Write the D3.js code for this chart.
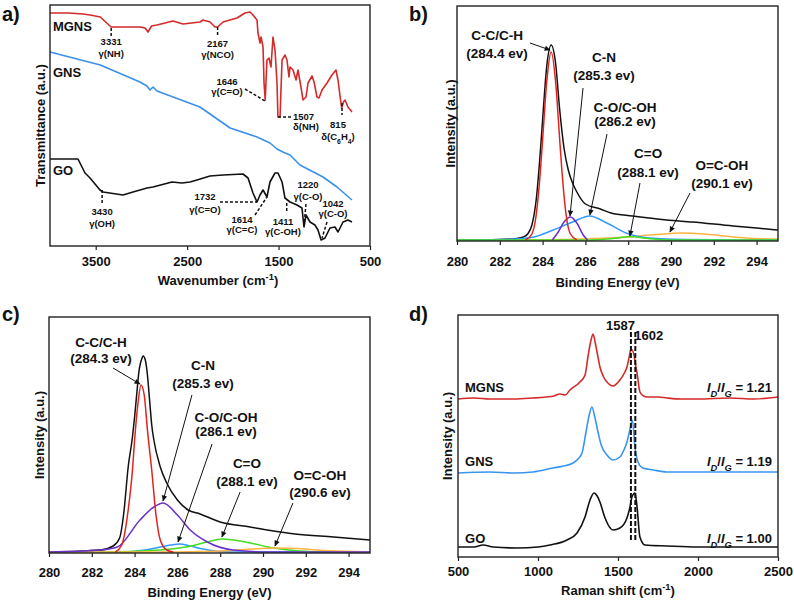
<!DOCTYPE html>
<html><head><meta charset="utf-8">
<script src="https://cdn.jsdelivr.net/npm/d3@7"></script>
<style>
body{margin:0;background:#fff}
svg{display:block}
text{font-family:"Liberation Sans",Arial,Helvetica,sans-serif;font-weight:bold;fill:#111}
</style></head><body>
<svg id="fig" width="794" height="602"></svg>
<script>
// ---------------- DATA ----------------
// (a) FTIR: [wavenumber cm-1, transmittance a.u.]
const ftirTicks = [3500, 2500, 1500, 500];
const ftirMGNS = [[4000,233],[3800,233],[3640,232],[3560,231],[3450,229],[3380,223],[3331,219],[3200,219],[3016,219],[2960,218],[2928,214],[2890,220],[2830,221],[2655,225],[2545,222],[2360,224],[2327,226],[2250,224],[2195,219],[2167,219],[2108,224],[1955,228],[1867,233],[1812,234],[1780,231],[1736,226],[1725,213],[1703,203],[1692,209],[1670,199],[1659,163],[1646,146],[1627,186],[1605,188],[1583,179],[1561,209],[1539,196],[1517,163],[1507,129],[1484,129],[1462,186],[1430,191],[1408,186],[1386,169],[1375,179],[1342,176],[1309,166],[1288,176],[1255,159],[1233,146],[1200,149],[1178,163],[1134,170],[1112,164],[1080,149],[1058,148],[1025,156],[970,163],[916,171],[872,176],[850,166],[825,148],[810,138],[790,144],[773,146],[741,139],[697,134]];
const ftirGNS = [[4000,194],[3450,181],[3016,164],[2940,160],[2906,156],[2873,159],[2830,155],[2360,139],[2030,118],[1736,109],[1594,103],[1517,97],[1452,94],[1375,91],[1266,81],[1014,69],[861,59],[697,46]];
const ftirGO = [[4000,87],[3694,87],[3650,79],[3617,73],[3562,68],[3453,56],[3420,54],[3202,51],[3092,54],[2939,58],[2873,59],[2666,64],[2556,63],[2469,64],[2392,66],[2250,70],[2108,71],[1889,72],[1834,68],[1780,53],[1736,44],[1703,51],[1670,56],[1627,49],[1594,64],[1539,73],[1506,73],[1462,64],[1430,48],[1375,44],[1298,41],[1244,38],[1222,19],[1200,31],[1156,24],[1102,21],[1069,16],[1035,6],[992,8],[938,18],[883,19],[850,14],[795,24],[741,26],[697,24]];

// (b) XPS N-doped (MGNS): [binding energy eV, intensity a.u.]
const xpsTicks = [280, 282, 284, 286, 288, 290, 292, 294];
const bEnvelope = [[280,0],[282,0.5],[282.8,1.5],[283.1,3],[283.3,6],[283.5,15],[283.7,40],[283.9,90],[284.0,120],[284.2,175],[284.4,195],[284.6,178],[284.8,130],[285.0,92],[285.2,70],[285.4,57],[285.6,48],[286.0,36],[286.7,31],[287.2,27],[288.2,24],[289.8,20],[291.0,18],[292.9,14],[294.0,12],[295,10]];
const bCC = [[283.2,0],[283.5,6],[283.7,25],[283.9,70],[284.0,100],[284.2,160],[284.4,188],[284.6,160],[284.8,100],[284.9,70],[285.1,25],[285.3,6],[285.6,0]];
const bCN = [[284.45,0],[284.7,7],[285.0,18],[285.3,23],[285.6,17],[285.9,5],[286.1,0]];
const bCO = [[280,0],[282,0.5],[283,1.5],[283.6,3],[284.5,10],[285.4,18],[286.2,24],[287,17],[287.9,7],[289,2],[290.6,0.5],[295,0]];
const bC_O = [[280,0],[286.3,0],[286.8,0.5],[287.5,2],[288.1,3.5],[288.7,2],[289.4,0.5],[290,0],[295,0]];
const bOCOH = [[280,0],[283,0],[285,0.5],[287,2],[288,3],[289,5],[290,6.5],[290.5,7],[291.5,6],[292.5,4],[293.5,2],[295,1]];

// (c) XPS (GNS)
const cEnvelope = [[280,0],[282.4,2],[283.0,6],[283.3,14],[283.5,40],[283.7,85],[283.9,115],[284.0,135],[284.1,158],[284.2,180],[284.35,194],[284.4,196],[284.5,192],[284.6,177],[284.7,152],[284.8,127],[284.9,112],[285.2,85],[285.5,69],[286.0,52],[286.5,42],[287.06,38],[288.0,30],[289.4,25],[290.2,22],[291.5,18],[293.3,15],[295,12]];
const cCC = [[283.1,0],[283.4,7],[283.7,42],[283.9,82],[284.0,112],[284.15,147],[284.3,167],[284.45,157],[284.6,122],[284.8,82],[285.0,37],[285.2,12],[285.5,2],[285.8,0]];
const cCN = [[280,0],[282.4,2],[283.2,5],[284.25,32],[284.9,45],[285.33,49],[286.0,37],[286.6,22],[287.4,10],[288.6,2],[290.2,0],[295,0]];
const cCO = [[280,0],[283.5,0],[284.5,2],[285.2,5],[285.7,7],[286.1,8],[286.6,6],[287.2,3],[288,0.5],[289,0],[295,0]];
const cC_O = [[280,0],[282.4,0],[285.2,2],[286.4,5],[287.4,10],[288.1,13],[289.4,9],[290.5,4],[291.7,1],[293,0],[295,0]];
const cOCOH = [[280,0],[285,0],[287,0.5],[288.5,1.5],[289.5,3],[290.6,4],[291.6,3.5],[292.5,2],[293.5,1],[295,0]];

// (d) Raman: [Raman shift cm-1, intensity a.u.]
const ramanTicks = [500, 1000, 1500, 2000, 2500];
const ramanMGNS = [[500,158],[600,159],[700,158],[850,158],[969,159],[1050,160],[1100,161],[1137,163],[1170,162],[1200,167],[1262,175],[1294,182],[1312,200],[1330,216],[1344,223],[1358,214],[1369,205],[1387,190],[1410,180],[1431,175],[1469,171],[1512,177],[1540,184],[1556,190],[1570,200],[1581,208],[1600,202],[1612,190],[1619,184],[1637,165],[1660,161],[1681,160],[1750,160],[1806,159],[1900,158],[2000,158],[2200,159],[2350,158],[2500,160]];
const ramanGNS = [[500,84],[700,85],[850,84],[969,85],[1094,89],[1160,91],[1219,94],[1250,98],[1275,104],[1300,125],[1320,142],[1337,150],[1355,140],[1375,125],[1395,112],[1431,102],[1469,97],[1512,100],[1540,108],[1556,115],[1575,128],[1590,137],[1606,110],[1625,95],[1656,89],[1720,87],[1806,85],[2000,85],[2200,85],[2500,85]];
const ramanGO = [[500,10],[600,10],[656,12],[720,10],[869,9],[1000,10],[1075,12],[1181,17],[1244,24],[1294,40],[1325,57],[1350,64],[1370,61],[1387,55],[1419,39],[1469,27],[1512,29],[1556,39],[1575,50],[1587,60],[1606,64],[1619,50],[1637,20],[1669,12],[1806,11],[2000,10],[2500,10]];
const ramanGpeaks = [1587, 1602];
const ratioMGNS = "1.21", ratioGNS = "1.19", ratioGO = "1.00";

// ---------------- DRAWING ----------------
const svg = d3.select("#fig");
svg.append("rect").attr("width",794).attr("height",602).attr("fill","#fff");
const defs = svg.append("defs");
defs.append("marker").attr("id","arr").attr("viewBox","0 0 10 10").attr("refX",9).attr("refY",5)
  .attr("markerWidth",7).attr("markerHeight",6).attr("markerUnits","userSpaceOnUse").attr("orient","auto")
  .append("path").attr("d","M0,0.5 L10,5 L0,9.5 z").attr("fill","#111");

function rich(sel, s){
  const re=/([_^~=])\{([^}]*)\}/g; let last=0,m;
  while((m=re.exec(s))!==null){
    if(m.index>last) sel.append("tspan").text(s.slice(last,m.index));
    const t=sel.append("tspan").text(m[2]);
    if(m[1]==="_"||m[1]==="=") t.attr("baseline-shift","sub").attr("font-size","72%");
    if(m[1]==="^") t.attr("baseline-shift","super").attr("font-size","72%");
    if(m[1]==="~"||m[1]==="=") t.attr("font-style","italic");
    last=re.lastIndex;
  }
  if(last<s.length) sel.append("tspan").text(s.slice(last));
  return sel;
}

function panel(o){
  const g = svg.append("g");
  const x = d3.scaleLinear().domain(o.xDom).range([o.box.l,o.box.r]);
  const y = d3.scaleLinear().domain(o.yDom).range([o.yBase,o.box.t]);
  const ax = g.append("g").attr("transform",`translate(0,${o.box.b})`)
    .call(d3.axisBottom(x).tickValues(o.ticks).tickFormat(d3.format("d")).tickSize(4).tickPadding(o.pad).tickSizeOuter(0));
  ax.select(".domain").remove();
  ax.selectAll("line").attr("stroke","#222").attr("stroke-width",1.2);
  ax.selectAll("text").attr("font-size",13).attr("font-family",null).attr("fill","#111");
  g.append("text").attr("x",o.titleX).attr("y",o.titleY).attr("text-anchor","middle").attr("font-size",13).call(rich,o.title);
  g.append("text").attr("transform",`translate(${o.ylx},${(o.box.t+o.box.b)/2}) rotate(-90)`)
    .attr("text-anchor","middle").attr("font-size",13).text(o.ylabel);
  g.append("text").attr("x",o.tag[0]).attr("y",o.tag[1]).attr("font-size",20).text(o.tagText);
  const plot = g.append("g");
  g.append("rect").attr("x",o.box.l).attr("y",o.box.t).attr("width",o.box.r-o.box.l).attr("height",o.box.b-o.box.t)
    .attr("fill","none").attr("stroke","#222").attr("stroke-width",1.4);
  return {g,plot,x,y};
}
function drawLine(P, data, color, w, curve){
  P.plot.append("path").datum(data).attr("fill","none").attr("stroke",color).attr("stroke-width",w)
    .attr("stroke-linejoin","round")
    .attr("d",d3.line().x(d=>P.x(d[0])).y(d=>P.y(d[1])).curve(curve||d3.curveLinear));
}
function label(P, x, v, s, size, anchor){
  return P.g.append("text").attr("x",P.x(x)).attr("y",P.y(v)).attr("font-size",size).attr("text-anchor",anchor||"middle").call(rich,s);
}
function seg(P, a, b, dash, w, arrow){
  const l=P.g.append("line").attr("x1",P.x(a[0])).attr("y1",P.y(a[1])).attr("x2",P.x(b[0])).attr("y2",P.y(b[1]))
    .attr("stroke","#111").attr("stroke-width",w);
  if(dash) l.attr("stroke-dasharray",dash);
  if(arrow) l.attr("marker-end","url(#arr)");
}

// ---- (a) FTIR ----
const A = panel({box:{l:50,t:5,r:370,b:246}, xDom:[4000,500], yDom:[0,241], yBase:246, ticks:ftirTicks, pad:7,
  title:"Wavenumber (cm^{-1})", titleX:218, titleY:285, ylabel:"Transmittance (a.u.)", ylx:45, tag:[2,21], tagText:"a)"});
drawLine(A, ftirGNS, "#3a90ea", 1.6);
drawLine(A, ftirGO, "#111", 1.6);
drawLine(A, ftirMGNS, "#d42a2a", 1.6);
label(A, 3968, 215, "MGNS", 13, "start");
label(A, 3968, 169, "GNS", 13, "start");
label(A, 3968, 71, "GO", 13, "start");
const aNotes = [
  {t:["3331","γ(NH)"], x:3331, v:[201,189], seg:[[3331,218],[3331,209]]},
  {t:["2167","γ(NCO)"], x:2167, v:[199,188], seg:[[2167,219],[2167,209]]},
  {t:["1646","γ(C=O)"], x:2064, v:[161,151], seg:[[1867,157],[1648,145]]},
  {t:["1507","δ(NH)"], x:1342, v:[126,116], anchor:"start", seg:[[1506,129],[1364,129]]},
  {t:["815","δ(C_{6}H_{4})"], x:850, v:[118,106], seg:[[806,143],[806,131]]},
  {t:["3430","γ(OH)"], x:3430, v:[31,19], seg:[[3430,56],[3430,43]]},
  {t:["1732","γ(C=O)"], x:2305, v:[46,33], seg:[[2141,44],[1736,44]]},
  {t:["1614","γ(C=C)"], x:1900, v:[23,13], seg:[[1758,31],[1627,49]]},
  {t:["1411","γ(C-OH)"], x:1452, v:[21,11], seg:[[1411,43],[1411,33]]},
  {t:["1220","γ(C-O)"], x:1178, v:[58,46], seg:[[1200,42],[1222,21]]},
  {t:["1042","γ(C-O)"], x:905, v:[39,29], seg:[[970,24],[1025,8]]}
];
aNotes.forEach(n=>{
  n.t.forEach((s,i)=>label(A, n.x, n.v[i], s, 9.5, n.anchor));
  seg(A, n.seg[0], n.seg[1], "3,2", 1.5, false);
});

// ---- (b) XPS ----
const B = panel({box:{l:457,t:6,r:778,b:241}, xDom:[280,295], yDom:[-1,234], yBase:241, ticks:xpsTicks, pad:12,
  title:"Binding Energy (eV)", titleX:617.5, titleY:287, ylabel:"Intensity (a.u.)", ylx:455, tag:[409,21], tagText:"b)"});
const mono = d3.curveMonotoneX;
drawLine(B, bEnvelope, "#111", 1.5, mono);
drawLine(B, bOCOH, "#ffb340", 1.5, mono);
drawLine(B, bCO, "#3399ff", 1.5, mono);
drawLine(B, bC_O, "#44dd22", 1.5, mono);
drawLine(B, bCN, "#6a2fc8", 1.5, mono);
drawLine(B, bCC, "#e0231f", 1.5, mono);
const bNotes = [
  {t:["C-C/C-H","(284.4 ev)"], x:281.87, v:[200,182], a:[[283.41,197],[284.35,190]]},
  {t:["C-N","(285.3 ev)"], x:286.87, v:[178,160], a:[[285.89,152],[285.28,24]]},
  {t:["C-O/C-OH","(286.2 ev)"], x:287.85, v:[128,114], a:[[287.01,106],[286.21,25]]},
  {t:["C=O","(288.1 ev)"], x:288.93, v:[82,63], a:[[288.55,57],[288.08,4]]},
  {t:["O=C-OH","(290.1 ev)"], x:292.38, v:[70,52], a:[[290.89,47],[289.95,8]]}
];
bNotes.forEach(n=>{
  n.t.forEach((s,i)=>label(B, n.x, n.v[i], s, 13.5));
  seg(B, n.a[0], n.a[1], null, 1, true);
});

// ---- (c) XPS ----
const C = panel({box:{l:49,t:317,r:370,b:553}, xDom:[280,295], yDom:[-1,235], yBase:553, ticks:xpsTicks, pad:11,
  title:"Binding Energy (eV)", titleX:209.5, titleY:597, ylabel:"Intensity (a.u.)", ylx:44, tag:[2,321], tagText:"c)"});
drawLine(C, cEnvelope, "#111", 1.5, mono);
drawLine(C, cCO, "#3399ff", 1.5, mono);
drawLine(C, cC_O, "#44dd22", 1.5, mono);
drawLine(C, cOCOH, "#ffb340", 1.5, mono);
drawLine(C, cCN, "#6a2fc8", 1.5, mono);
drawLine(C, cCC, "#e0231f", 1.5, mono);
const cNotes = [
  {t:["C-C/C-H","(284.3 ev)"], x:282.43, v:[205,189], a:[[282.99,184],[284.25,168]]},
  {t:["C-N","(285.3 ev)"], x:287.2, v:[182,164], a:[[286.68,157],[285.33,51]]},
  {t:["C-O/C-OH","(286.1 ev)"], x:288.27, v:[130,116], a:[[287.62,108],[286.03,10]]},
  {t:["C=O","(288.1 ev)"], x:289.25, v:[84,66], a:[[288.93,60],[288.08,15]]},
  {t:["O=C-OH","(290.6 ev)"], x:292.66, v:[72,55], a:[[291.4,49],[290.56,6]]}
];
cNotes.forEach(n=>{
  n.t.forEach((s,i)=>label(C, n.x, n.v[i], s, 13.5));
  seg(C, n.a[0], n.a[1], null, 1, true);
});

// ---- (d) Raman ----
const D = panel({box:{l:458,t:315,r:778,b:557}, xDom:[500,2500], yDom:[0,242], yBase:557, ticks:ramanTicks, pad:6,
  title:"Raman shift (cm^{-1})", titleX:618, titleY:595, ylabel:"Intensity (a.u.)", ylx:452, tag:[409,321], tagText:"d)"});
drawLine(D, ramanGO, "#111", 1.6, mono);
drawLine(D, ramanGNS, "#3a95f0", 1.6, mono);
drawLine(D, ramanMGNS, "#d42a2a", 1.6, mono);
ramanGpeaks.forEach((p,i)=>{
  D.g.append("line").attr("x1",D.x(p)).attr("x2",D.x(p)).attr("y1",D.y(225)).attr("y2",D.y(15))
   .attr("stroke","#111").attr("stroke-width",2).attr("stroke-dasharray","5,2")
   .attr("transform",`translate(${i===0?-1:1},0)`);
});
label(D, ramanGpeaks[0], 227, String(ramanGpeaks[0]), 13, "end").attr("dx",3);
label(D, ramanGpeaks[1], 217, String(ramanGpeaks[1]), 13, "start");
label(D, 544, 165, "MGNS", 13, "start");
label(D, 544, 91, "GNS", 13, "start");
label(D, 544, 14, "GO", 13, "start");
label(D, 2462, 165, "~{I}={D}/~{I}={G} = "+ratioMGNS, 13, "end");
label(D, 2462, 91, "~{I}={D}/~{I}={G} = "+ratioGNS, 13, "end");
label(D, 2462, 14, "~{I}={D}/~{I}={G} = "+ratioGO, 13, "end");
</script>
</body></html>
